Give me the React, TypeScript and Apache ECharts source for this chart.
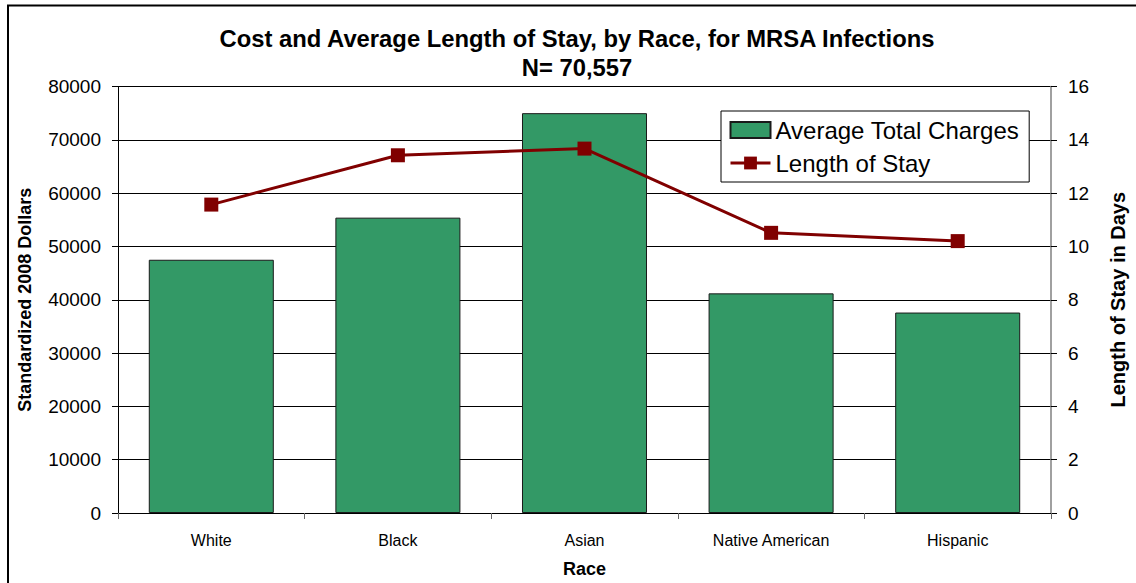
import React, { useEffect, useRef } from "react";
import * as echarts from "echarts";

// Categories and values
const races = ["White", "Black", "Asian", "Native American", "Hispanic"];
const averageTotalCharges = [47500, 55400, 75000, 41200, 37600];
const lengthOfStay = [11.57, 13.42, 13.67, 10.51, 10.2];

const titleLines = [
  "Cost and Average Length of Stay, by Race, for MRSA Infections",
  "N= 70,557",
];

const FONT = "'Liberation Sans', Arial, Helvetica, sans-serif";

export default function App() {
  const ref = useRef<HTMLDivElement>(null);

  useEffect(() => {
    if (!ref.current) return;
    const chart = echarts.init(ref.current, null, { renderer: "svg" });
    chart.setOption({
      animation: false,
      backgroundColor: "#ffffff",
      textStyle: { fontFamily: FONT, color: "#000" },
      graphic: [
        {
          type: "rect",
          shape: { x: 8, y: 5.5, width: 1200, height: 700 },
          style: { fill: "none", stroke: "#000", lineWidth: 2 },
          silent: true,
        },
        ...titleLines.map((t, i) => ({
          type: "text",
          x: 577,
          y: 38 + i * 29,
          silent: true,
          style: {
            text: t,
            fill: "#000",
            font: `bold 23.8px ${FONT}`,
            textAlign: "center",
            textVerticalAlign: "middle",
          },
        })),
      ],
      legend: {
        orient: "vertical",
        left: 721,
        top: 111,
        padding: [7, 10, 7, 8],
        itemGap: 9,
        itemWidth: 40,
        itemHeight: 16,
        backgroundColor: "#fff",
        borderColor: "#000",
        borderWidth: 1,
        lineStyle: { width: 3 },
        textStyle: { fontFamily: FONT, fontSize: 24, color: "#000" },
        data: [
          { name: "Average Total Charges", icon: "rect" },
          { name: "Length of Stay" },
        ],
      },
      grid: { left: 118, right: 80, top: 86.5, bottom: 69.3 },
      xAxis: {
        type: "category",
        data: races,
        name: "Race",
        nameLocation: "middle",
        nameGap: 47,
        nameTextStyle: { fontFamily: FONT, fontSize: 18, fontWeight: "bold", color: "#000" },
        axisLine: { lineStyle: { color: "#000", width: 1 } },
        axisTick: { show: true, length: 6, lineStyle: { color: "#666" } },
        axisLabel: { fontFamily: FONT, fontSize: 16, color: "#000", margin: 19 },
      },
      yAxis: [
        {
          type: "value",
          min: 0,
          max: 80000,
          interval: 10000,
          name: "Standardized 2008 Dollars",
          nameLocation: "middle",
          nameRotate: 90,
          nameGap: 84,
          nameTextStyle: { fontFamily: FONT, fontSize: 18, fontWeight: "bold", color: "#000" },
          axisLine: { show: true, lineStyle: { color: "#000", width: 1 } },
          axisTick: { show: true, length: 6, lineStyle: { color: "#000" } },
          axisLabel: {
            fontFamily: FONT,
            fontSize: 19,
            color: "#000",
            margin: 17,
            formatter: (v: number) => String(v),
          },
          splitLine: { show: true, lineStyle: { color: "#000", width: 1 } },
        },
        {
          type: "value",
          min: 0,
          max: 16,
          interval: 2,
          position: "right",
          name: "Length of Stay in Days",
          nameLocation: "middle",
          nameRotate: 90,
          nameGap: 57,
          nameTextStyle: { fontFamily: FONT, fontSize: 20, fontWeight: "bold", color: "#000" },
          axisLine: { show: true, lineStyle: { color: "#808080", width: 1.5 } },
          axisTick: { show: true, length: 6, lineStyle: { color: "#000" } },
          axisLabel: { fontFamily: FONT, fontSize: 19, color: "#000", margin: 17 },
          splitLine: { show: false },
        },
      ],
      series: [
        {
          name: "Average Total Charges",
          type: "bar",
          yAxisIndex: 0,
          data: averageTotalCharges,
          barCategoryGap: "33%",
          itemStyle: { color: "#339966", borderColor: "#1a1a1a", borderWidth: 1 },
        },
        {
          name: "Length of Stay",
          type: "line",
          yAxisIndex: 1,
          data: lengthOfStay,
          symbol: "rect",
          symbolSize: 14,
          lineStyle: { color: "#800000", width: 3 },
          itemStyle: { color: "#800000" },
          z: 5,
        },
      ],
    });
    return () => chart.dispose();
  }, []);

  return (
    <div
      ref={ref}
      style={{ position: "absolute", left: 0, top: 0, width: 1136, height: 583 }}
    />
  );
}
